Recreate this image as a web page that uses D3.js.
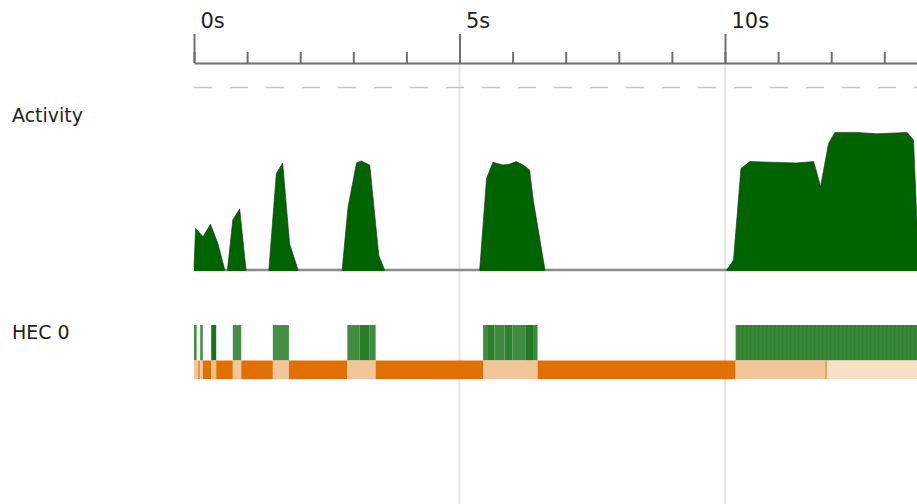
<!DOCTYPE html>
<html>
    <head>
        <title>Activity timeline</title>
        <script src="https://d3js.org/d3.v7.min.js"></script>
        <style>
            body { margin: 0; background: #fff; }
            text { font-family: "DejaVu Sans", sans-serif; }
        </style>
    </head>
    <body>
        <svg width="917" height="504" id="mainSvg"></svg>
        <script>
            // time axis (seconds)
            const tickSeconds = d3.range(0, 14)
            const majorSeconds = [0, 5, 10]
            const majorLabels = ["0s", "5s", "10s"]

            // activity curve: time (s) and fraction of capacity
            const activityTimes = [0, 0.03, 0.17, 0.31, 0.45, 0.58, 0.63, 0.73, 0.86, 0.98, 1.41, 1.55, 1.67, 1.80, 1.96, 2.79, 2.90, 3.06, 3.15, 3.31, 3.48, 3.59,
                5.38, 5.51, 5.63, 5.82, 5.93, 6.07, 6.20, 6.32, 6.39, 6.61,
                10.03, 10.16, 10.30, 10.47, 11.35, 11.67, 11.80, 11.95, 12.07, 12.48, 12.86, 13.43, 13.55, 13.62, 13.7]
            const activityValues = [0.02, 0.30, 0.24, 0.33, 0.19, 0, 0, 0.36, 0.44, 0, 0, 0.695, 0.77, 0.19, 0, 0, 0.45, 0.77, 0.785, 0.755, 0.105, 0,
                0, 0.66, 0.775, 0.755, 0.76, 0.78, 0.755, 0.72, 0.50, 0,
                0, 0.07, 0.73, 0.78, 0.77, 0.78, 0.60, 0.91, 0.99, 0.99, 0.98, 0.99, 0.935, 0.3, 0]

            // HEC 0 running slices: start, end (s), intensity
            const runStarts = [0, 0.117, 0.324, 0.731, 1.485, 2.888, 3.12, 3.30, 5.444, 5.52, 5.66, 5.85, 6.0, 6.25, 6.40]
            const runEnds   = [0.05, 0.166, 0.418, 0.89, 1.787, 3.12, 3.30, 3.42, 5.52, 5.66, 5.85, 6.0, 6.25, 6.40, 6.47]
            const runLevels = [0.72, 0.72, 0.9, 0.72, 0.72, 0.74, 0.84, 0.74, 0.74, 0.83, 0.75, 0.82, 0.75, 0.86, 0.76]
            // long busy stretch at the end (striped)
            const busyStart = 10.2
            const busyEnd = 13.7

            // HEC 0 GC slices: start, end (s), intensity
            const gcStarts = [0, 0.07, 0.117, 0.166, 0.324, 0.418, 0.731, 0.89, 1.485, 1.787, 2.888, 3.42, 5.444, 6.47, 10.2, 11.88, 11.93]
            const gcEnds   = [0.07, 0.117, 0.166, 0.324, 0.418, 0.731, 0.89, 1.485, 1.787, 2.888, 3.42, 5.444, 6.47, 10.2, 11.88, 11.93, 13.7]
            const gcLevels = [0.4, 0.75, 0.4, 1, 0.45, 1, 0.4, 1, 0.4, 1, 0.4, 1, 0.4, 1, 0.4, 0.65, 0.22]

            const mainSvg = d3.select("#mainSvg")
            const x0 = 194
            const pxPerSec = 53.1
            const xScale = d3.scaleLinear()
                .domain([0, 13.7])
                .range([x0, x0 + 13.7 * pxPerSec])

            const yScale = d3.scaleLinear()
                .domain([0, 1])
                .range([270, 131])

            const greenScale = d3.interpolateRgb("#ffffff", "#006400")
            const orangeScale = d3.interpolateRgb("#ffffff", "#e07000")

            // grid lines at major ticks
            mainSvg.append("g").selectAll("line")
                .data(majorSeconds.filter(d => d > 0))
                .join("line")
                .attr("x1", d => xScale(d)).attr("x2", d => xScale(d))
                .attr("y1", 63).attr("y2", 504)
                .attr("stroke", "#e6e6e6")
                .attr("stroke-width", 2)

            // minor ticks
            const minorAxis = d3.axisTop(xScale)
                .tickValues(tickSeconds)
                .tickSize(11)
                .tickSizeOuter(0)
                .tickFormat("")
            const gMinor = mainSvg.append("g")
                .attr("transform", "translate(0, 63)")
                .call(minorAxis)
            gMinor.select(".domain").attr("stroke", "#707070").attr("stroke-width", 2)
            gMinor.selectAll(".tick line").attr("stroke", "#707070").attr("stroke-width", 2)

            // major ticks with labels
            const majorAxis = d3.axisTop(xScale)
                .tickValues(majorSeconds)
                .tickSize(29)
                .tickSizeOuter(0)
                .tickFormat((d, i) => majorLabels[i])
            const gMajor = mainSvg.append("g")
                .attr("transform", "translate(0, 63)")
                .call(majorAxis)
            gMajor.select(".domain").remove()
            gMajor.selectAll(".tick line").attr("stroke", "#707070").attr("stroke-width", 2)
            gMajor.selectAll(".tick text")
                .attr("x", 6)
                .attr("y", -35)
                .attr("dy", 0)
                .attr("text-anchor", "start")
                .attr("font-size", 21)
                .attr("font-family", "DejaVu Sans")
                .attr("fill", "#222")

            // dashed separator
            mainSvg.append("line")
                .attr("x1", xScale(0)).attr("x2", 917)
                .attr("y1", 87.5).attr("y2", 87.5)
                .attr("stroke", "#c4c4c4")
                .attr("stroke-width", 1.5)
                .attr("stroke-dasharray", "18,18")

            // row labels
            mainSvg.append("text").text("Activity")
                .attr("x", 12).attr("y", 121.5)
                .attr("font-size", 19).attr("fill", "#222")
            mainSvg.append("text").text("HEC 0")
                .attr("x", 12).attr("y", 338.5)
                .attr("font-size", 19).attr("fill", "#222")

            // activity graph: grey zero line, then one green area per burst
            const activity = activityTimes.map((t, i) => ({t: t, v: activityValues[i]}))
            mainSvg.append("line")
                .attr("x1", xScale(0)).attr("x2", 917)
                .attr("y1", yScale(0)).attr("y2", yScale(0))
                .attr("stroke", "#8a8a8a")
                .attr("stroke-width", 2.5)

            const bursts = []
            let cur = null
            activity.forEach((d, i) => {
                const next = activity[i + 1]
                if (d.v > 0 || (next && next.v > 0)) {
                    if (!cur) { cur = []; bursts.push(cur) }
                    cur.push(d)
                    if (d.v === 0 && cur.length > 1) cur = null
                } else if (cur) {
                    cur.push(d)
                    cur = null
                }
            })

            const area = d3.area()
                .x(d => xScale(d.t))
                .y0(yScale(0) + 1)
                .y1(d => yScale(d.v))
            mainSvg.append("g").selectAll("path")
                .data(bursts)
                .join("path")
                .attr("d", area)
                .attr("fill", "#006400")

            const topLine = d3.line()
                .x(d => xScale(d.t))
                .y(d => yScale(d.v))
            mainSvg.append("g").selectAll("path")
                .data(bursts)
                .join("path")
                .attr("d", topLine)
                .attr("fill", "none")
                .attr("stroke", "#1e2a1e")
                .attr("stroke-width", 1)
                .attr("stroke-opacity", 0.6)

            // HEC 0 row
            const runTop = 325, runBottom = 360.5, gcBottom = 379

            const defs = mainSvg.append("defs")
            const pattern = defs.append("pattern")
                .attr("id", "busyStripes")
                .attr("patternUnits", "userSpaceOnUse")
                .attr("width", 4).attr("height", 10)
            pattern.append("rect").attr("width", 4).attr("height", 10).attr("fill", greenScale(0.77))
            pattern.append("rect").attr("x", 2).attr("width", 1.5).attr("height", 10).attr("fill", greenScale(0.81))

            const runs = runStarts.map((s, i) => ({s: s, e: runEnds[i], v: runLevels[i]}))
            mainSvg.append("g").selectAll("rect")
                .data(runs)
                .join("rect")
                .attr("x", d => xScale(d.s))
                .attr("width", d => xScale(d.e) - xScale(d.s))
                .attr("y", runTop)
                .attr("height", runBottom - runTop)
                .attr("fill", d => greenScale(d.v))

            mainSvg.append("rect")
                .attr("x", xScale(busyStart))
                .attr("width", xScale(busyEnd) - xScale(busyStart))
                .attr("y", runTop)
                .attr("height", runBottom - runTop)
                .attr("fill", "url(#busyStripes)")

            const gcs = gcStarts.map((s, i) => ({s: s, e: gcEnds[i], v: gcLevels[i]}))
            mainSvg.append("g").selectAll("rect")
                .data(gcs)
                .join("rect")
                .attr("x", d => xScale(d.s))
                .attr("width", d => xScale(d.e) - xScale(d.s))
                .attr("y", runBottom)
                .attr("height", gcBottom - runBottom)
                .attr("fill", d => orangeScale(d.v))
        </script>
    </body>
</html>
